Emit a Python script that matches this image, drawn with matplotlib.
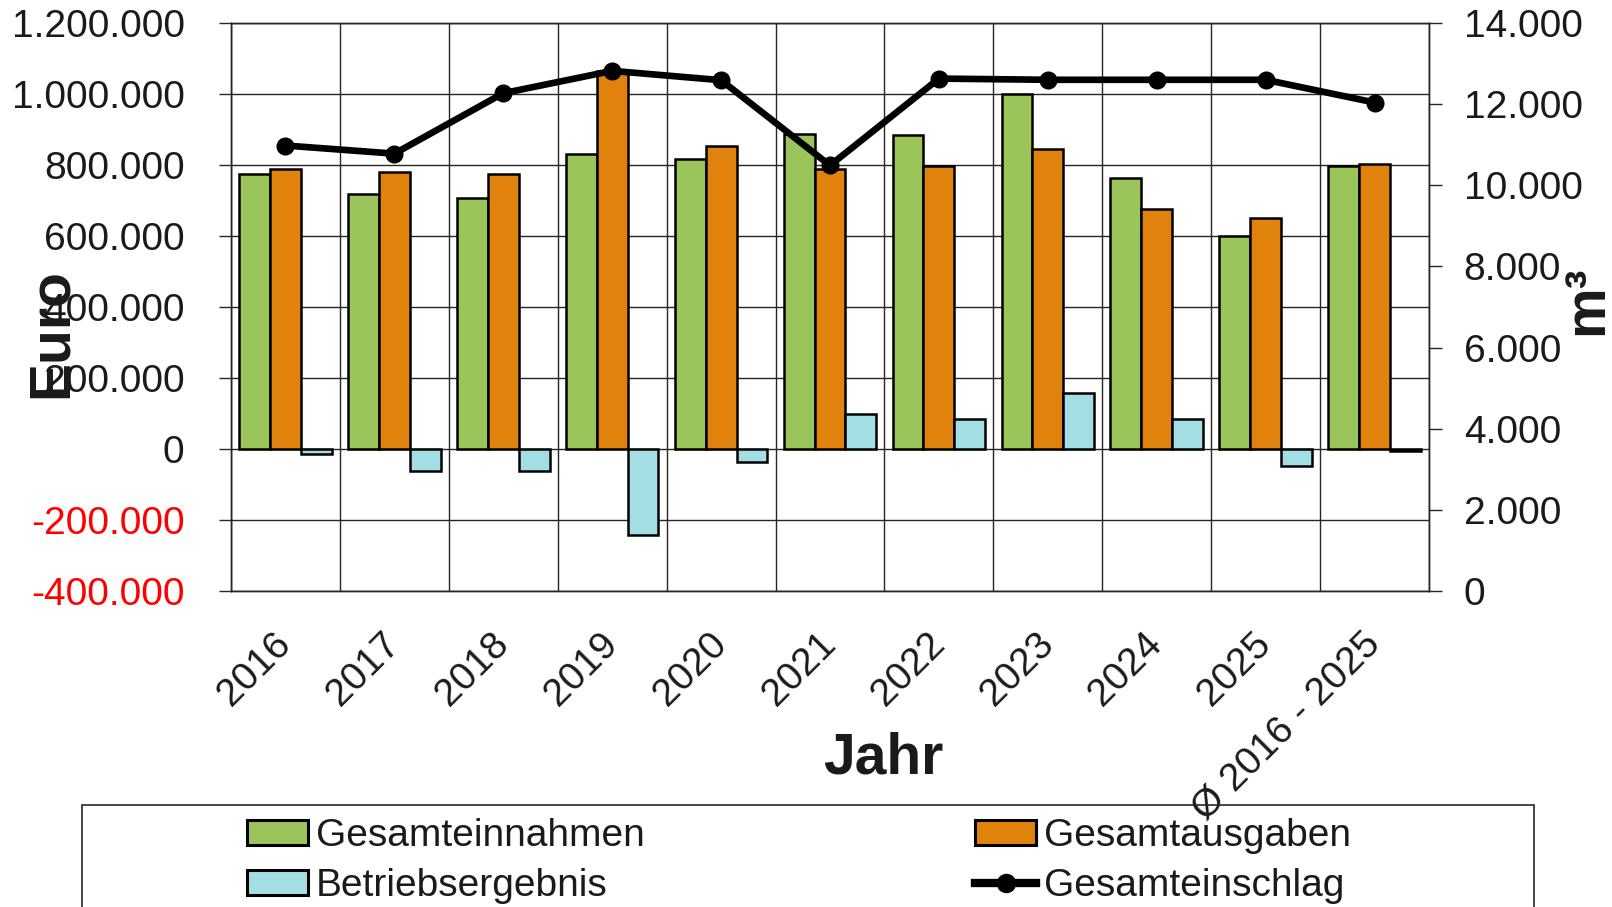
import numpy as np
import matplotlib
matplotlib.use("Agg")
import matplotlib.pyplot as plt
from matplotlib.patches import Patch, Rectangle
from matplotlib.lines import Line2D

# data
categories = ["2016", "2017", "2018", "2019", "2020", "2021", "2022", "2023",
              "2024", "2025", "Ø 2016 - 2025"]
einnahmen = [776000, 717000, 708000, 830000, 816000, 887000, 884000, 999000,
             763000, 601000, 797000]
ausgaben = [789000, 780000, 776000, 1065000, 853000, 789000, 797000, 844000,
            677000, 650000, 803000]
ergebnis = [-14000, -63000, -63000, -242000, -36000, 99000, 84000, 158000,
            84000, -48000, -5000]
einschlag = [10980, 10780, 12270, 12820, 12590, 10490, 12630, 12600,
             12600, 12600, 12040]

left_ticks = [-400000, -200000, 0, 200000, 400000, 600000, 800000, 1000000, 1200000]
right_ticks = [0, 2000, 4000, 6000, 8000, 10000, 12000, 14000]

GREEN = "#9bc55a"
ORANGE = "#e0820c"
CYAN = "#a3dee5"
INK = "#1a1a1a"
GRID = "#262626"
FONT = "Liberation Sans"
FS = 28

plt.rcParams.update({"font.family": FONT, "font.size": FS})


def de_fmt(v):
    return f"{v:,.0f}".replace(",", ".")


fig = plt.figure(figsize=(16.12, 9.07), dpi=100)
ax = fig.add_axes([231 / 1612, 1 - 591 / 907, (1429 - 231) / 1612, (591 - 23) / 907])

x = np.arange(len(categories))
w = 0.283
bar_kw = dict(edgecolor="black", linewidth=1.8, zorder=3)
ax.bar(x - w, einnahmen, w, color=GREEN, **bar_kw)
ax.bar(x, ausgaben, w, color=ORANGE, **bar_kw)
ax.bar(x + w, ergebnis, w, color=CYAN, **bar_kw)

ax.set_xlim(-0.5, len(categories) - 0.5)
ax.set_ylim(left_ticks[0], left_ticks[-1])
ax.set_yticks(left_ticks)
ax.set_yticklabels([de_fmt(v) for v in left_ticks])
for lab, v in zip(ax.get_yticklabels(), left_ticks):
    lab.set_color("#ff0000" if v < 0 else INK)

ax.set_xticks(x)
ax.set_xticklabels(categories, rotation=45, ha="right", va="center",
                   rotation_mode="anchor", color=INK)
ax.set_xticks(np.arange(-0.5, len(categories), 1), minor=True)
ax.tick_params(axis="x", which="both", length=0, pad=34)
ax.tick_params(axis="y", length=8.4, width=1, color=GRID, pad=25)

ax.set_axisbelow(True)
ax.yaxis.grid(True, color=GRID, linewidth=1)
ax.xaxis.grid(True, which="minor", color=GRID, linewidth=1)
ax.xaxis.grid(False, which="major")
for s in ax.spines.values():
    s.set_color(GRID)
    s.set_linewidth(1)

ax2 = ax.twinx()
ax2.plot(x, einschlag, color="black", linewidth=4.8, marker="o", markersize=12,
         zorder=5)
ax2.set_ylim(right_ticks[0], right_ticks[-1])
ax2.set_yticks(right_ticks)
ax2.set_yticklabels([de_fmt(v) for v in right_ticks], color=INK)
ax2.tick_params(axis="y", length=9, width=1, color=GRID, pad=16)
for s in ax2.spines.values():
    s.set_color(GRID)
    s.set_linewidth(1)

# axis titles
fig.text(67 / 1612, 1 - 333 / 907, "Euro", rotation=90, fontsize=41,
         fontweight="bold", color=INK, ha="center", va="baseline",
         rotation_mode="anchor")
fig.text(1602 / 1612, 1 - 300 / 907, "m³", rotation=90, fontsize=41,
         fontweight="bold", color=INK, ha="center", va="baseline",
         rotation_mode="anchor")
fig.text(883 / 1612, 1 - 774 / 907, "Jahr", fontsize=41, fontweight="bold",
         color=INK, ha="center", va="baseline")

# legend with a box running off the bottom edge
fig.add_artist(Rectangle((82 / 1612, -0.1), (1534 - 82) / 1612, 0.1 + (1 - 805 / 907),
                         transform=fig.transFigure, fill=False,
                         edgecolor=GRID, linewidth=1.2))
handles = [
    Patch(facecolor=GREEN, edgecolor="black", linewidth=2.2),
    Patch(facecolor=CYAN, edgecolor="black", linewidth=2.2),
    Patch(facecolor=ORANGE, edgecolor="black", linewidth=2.2),
    Line2D([], [], color="black", linewidth=6, marker="o", markersize=13),
]
labels = ["Gesamteinnahmen", "Betriebsergebnis", "Gesamtausgaben", "Gesamteinschlag"]
fig.legend(handles, labels, ncol=2, loc="upper left",
           bbox_to_anchor=(228 / 1612, 1 - 799 / 907), frameon=False,
           borderpad=0, handlelength=1.56, handleheight=0.62, handletextpad=0.2,
           columnspacing=8.5, labelspacing=0.36, fontsize=FS, labelcolor=INK)

fig.savefig("out.png", dpi=100, facecolor="white")
